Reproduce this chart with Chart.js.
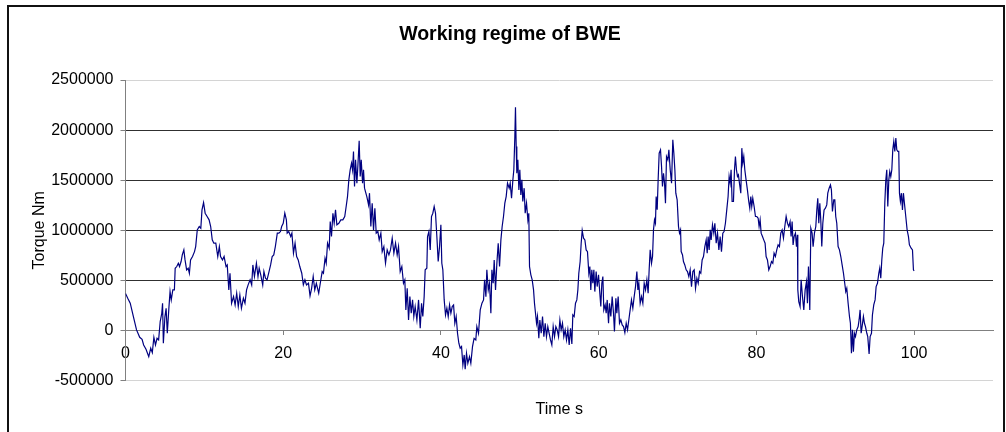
<!DOCTYPE html>
<html>
<head>
<meta charset="utf-8">
<title>Working regime of BWE</title>
<script src="https://cdn.jsdelivr.net/npm/chart.js@4/dist/chart.umd.min.js"></script>
<style>
    body { margin: 0; background: #fff; }
    #contenedor { position: relative; width: 1006px; height: 432px; overflow: hidden; }
    #marco {
        position: absolute; left: 7px; top: 5px; width: 998px; height: 440px;
        box-sizing: border-box; border: 2px solid #111; pointer-events: none;
    }
</style>
</head>
<body>
<div id="contenedor">
    <canvas id="miGrafico" width="1006" height="432"></canvas>
    <div id="marco"></div>
</div>
<script>
// Tiempo en segundos
const tiempo = [
    0, 0.3, 0.6, 1.0, 1.4, 1.8, 2.1, 2.3, 2.6, 2.95, 3.2, 3.4, 3.6, 3.8, 4.0, 4.2, 4.4, 4.6, 4.7, 4.8,
    5.0, 5.15, 5.3, 5.5, 5.65, 5.8, 6.0, 6.2, 6.3, 6.5, 6.7, 6.85, 7.05, 7.2, 7.4, 7.55, 7.75, 7.95, 8.1, 8.25,
    8.5, 8.75, 8.9, 9.1, 9.35, 9.55, 9.7, 9.9, 10.1, 10.35, 10.6, 10.8, 11.0, 11.2, 11.45, 11.7, 11.9, 12.05, 12.3, 12.5,
    12.75, 12.9, 13.1, 13.25, 13.45, 13.7, 13.9, 14.1, 14.3, 14.5, 14.7, 14.95, 15.15, 15.35, 15.55, 15.8, 16.0, 16.15, 16.35, 16.6,
    16.8, 16.95, 17.15, 17.4, 17.55, 17.75, 17.95, 18.2, 18.4, 18.6, 18.8, 19.0, 19.25, 19.45, 19.65, 19.8, 20.0, 20.2, 20.4, 20.5,
    20.7, 20.95, 21.1, 21.3, 21.5, 21.7, 21.9, 22.1, 22.35, 22.55, 22.75, 22.95, 23.2, 23.4, 23.6, 23.8, 24.0, 24.2, 24.5, 24.7,
    24.94, 25.1, 25.3, 25.45, 25.62, 25.83, 25.96, 26.12, 26.3, 26.46, 26.63, 26.8, 27.05, 27.3, 27.56, 27.8, 27.98, 28.15, 28.32, 28.49,
    28.66, 28.79, 28.91, 29.04, 29.17, 29.34, 29.46, 29.63, 29.76, 29.89, 30.06, 30.18, 30.31, 30.6, 30.82, 30.94, 31.11, 31.28, 31.45, 31.62,
    31.79, 32.0, 32.17, 32.38, 32.55, 32.76, 32.97, 33.18, 33.4, 33.6, 33.82, 34.03, 34.24, 34.45, 34.62, 34.83, 35.04, 35.25, 35.42, 35.55,
    35.72, 35.89, 36.06, 36.23, 36.4, 36.56, 36.73, 36.95, 37.16, 37.37, 37.54, 37.7, 37.87, 38.0, 38.21, 38.3, 38.47, 38.64, 38.8, 38.97,
    39.14, 39.31, 39.48, 39.65, 39.82, 39.99, 40.11, 40.24, 40.41, 40.58, 40.75, 40.92, 41.09, 41.26, 41.43, 41.6, 41.76, 41.93, 42.1, 42.27,
    42.44, 42.61, 42.78, 42.95, 43.07, 43.24, 43.41, 43.62, 43.79, 44.0, 44.2, 44.42, 44.55, 44.76, 44.98, 45.2, 45.4, 45.53, 45.7, 45.82,
    46.0, 46.16, 46.33, 46.46, 46.62, 46.75, 46.92, 47.09, 47.26, 47.43, 47.6, 47.76, 47.93, 48.1, 48.27, 48.44, 48.65, 48.78, 48.95, 49.12,
    49.24, 49.37, 49.45, 49.54, 49.62, 49.75, 49.88, 50.0, 50.13, 50.26, 50.38, 50.55, 50.68, 50.85, 51.02, 51.14, 51.23, 51.4, 51.57, 51.74,
    51.86, 51.99, 52.12, 52.24, 52.41, 52.54, 52.71, 52.88, 53.05, 53.22, 53.38, 53.55, 53.72, 53.89, 54.06, 54.23, 54.4, 54.57, 54.74, 54.91,
    55.08, 55.24, 55.41, 55.58, 55.75, 55.92, 56.09, 56.26, 56.43, 56.6, 56.72, 56.89, 57.06, 57.23, 57.36, 57.48, 57.65, 57.78, 57.91, 58.08,
    58.25, 58.41, 58.58, 58.75, 58.88, 59.0, 59.13, 59.26, 59.39, 59.51, 59.68, 59.81, 59.98, 60.1, 60.27, 60.4, 60.53, 60.65, 60.82, 60.95,
    61.08, 61.25, 61.37, 61.54, 61.71, 61.88, 62.0, 62.18, 62.3, 62.47, 62.64, 62.81, 62.98, 63.15, 63.32, 63.49, 63.66, 63.82, 63.99, 64.16,
    64.33, 64.5, 64.67, 64.84, 64.97, 65.09, 65.26, 65.43, 65.6, 65.77, 65.94, 66.11, 66.27, 66.4, 66.53, 66.7, 66.83, 66.95, 67.08, 67.2,
    67.29, 67.42, 67.54, 67.67, 67.84, 67.97, 68.09, 68.22, 68.35, 68.47, 68.6, 68.77, 68.9, 69.07, 69.24, 69.4, 69.53, 69.66, 69.78, 69.95,
    70.12, 70.25, 70.38, 70.46, 70.63, 70.75, 70.92, 71.09, 71.26, 71.43, 71.6, 71.77, 71.94, 72.11, 72.28, 72.45, 72.62, 72.79, 72.95, 73.12,
    73.29, 73.46, 73.63, 73.76, 73.88, 74.01, 74.14, 74.26, 74.43, 74.6, 74.73, 74.9, 75.07, 75.24, 75.4, 75.57, 75.74, 75.9, 76.07, 76.24,
    76.41, 76.54, 76.67, 76.79, 76.92, 77.09, 77.22, 77.34, 77.47, 77.6, 77.72, 77.85, 78.02, 78.15, 78.27, 78.4, 78.53, 78.69, 78.86, 79.03,
    79.16, 79.29, 79.41, 79.54, 79.71, 79.88, 80.05, 80.22, 80.34, 80.47, 80.6, 80.77, 80.93, 81.1, 81.23, 81.4, 81.57, 81.74, 81.91, 82.08,
    82.24, 82.41, 82.58, 82.75, 82.92, 83.09, 83.26, 83.43, 83.6, 83.77, 83.94, 84.1, 84.27, 84.4, 84.53, 84.65, 84.78, 84.95, 85.08, 85.2,
    85.25, 85.37, 85.54, 85.67, 85.84, 86.01, 86.18, 86.35, 86.47, 86.6, 86.77, 86.9, 87.06, 87.19, 87.36, 87.53, 87.66, 87.78, 87.91, 88.04,
    88.16, 88.29, 88.42, 88.58, 88.75, 88.92, 89.05, 89.22, 89.39, 89.51, 89.64, 89.81, 89.94, 90.06, 90.19, 90.36, 90.53, 90.7, 90.87, 91.04,
    91.2, 91.33, 91.46, 91.63, 91.8, 91.92, 92.05, 92.18, 92.3, 92.43, 92.56, 92.73, 92.9, 93.02, 93.15, 93.28, 93.4, 93.57, 93.7, 93.83,
    94.0, 94.12, 94.29, 94.42, 94.59, 94.71, 94.88, 95.05, 95.18, 95.35, 95.52, 95.64, 95.77, 95.9, 96.02, 96.15, 96.28, 96.41, 96.53, 96.66,
    96.79, 96.91, 97.04, 97.17, 97.29, 97.42, 97.55, 97.68, 97.8, 97.93, 98.05, 98.14, 98.26, 98.39, 98.52, 98.64, 98.77, 98.94, 99.11, 99.28,
    99.4, 99.62, 99.79, 99.91, 100.0
];

// Par en miles de Nm (kNm), mismo orden que tiempo
const parKNm = [
    370, 320, 273, 140, 7, -67, -87, -143, -186, -260, -176, -220, -67, -143, -77, -93, 90, 173, 273, -126,
    140, 223, -27, 223, 390, 306, 406, 406, 622, 639, 672, 639, 689, 755, 805, 705, 605, 622, 572, 705,
    739, 788, 838, 1005, 1038, 1021, 1204, 1277, 1171, 1138, 1105, 1038, 905, 872, 872, 739, 838, 739, 705, 739,
    639, 655, 406, 572, 273, 339, 256, 373, 240, 356, 223, 323, 273, 406, 456, 506, 456, 655, 539, 672,
    539, 622, 556, 456, 589, 522, 506, 589, 655, 739, 755, 838, 972, 972, 988, 1038, 1071, 1171, 1105, 972,
    988, 938, 972, 772, 872, 739, 705, 639, 572, 456, 506, 456, 472, 346, 422, 539, 406, 472, 373, 472,
    589, 572, 722, 672, 872, 822, 1088, 938, 1171, 1071, 1204, 1055, 1071, 1105, 1105, 1138, 1238, 1337, 1504, 1604,
    1670, 1604, 1787, 1437, 1703, 1471, 1637, 1893, 1537, 1703, 1471, 1604, 1421, 1337, 1254, 1371, 1038, 1271, 1005, 1221,
    972, 988, 905, 972, 788, 838, 672, 805, 755, 805, 922, 772, 872, 755, 838, 589, 639, 472, 506, 206,
    422, 106, 339, 173, 306, 140, 240, 106, 306, 23, 273, 140, 339, 606, 622, 938, 988, 805, 1138, 1171,
    1238, 1171, 938, 689, 838, 1055, 672, 606, 306, 156, 223, 140, 256, 173, 240, 256, 73, 140, -27, -126,
    -176, -160, -343, -243, -386, -226, -326, -260, -326, -160, -77, -93, 40, -27, 206, 273, 306, 506, 339, 606,
    406, 472, 173, 606, 472, 705, 406, 672, 872, 639, 905, 1038, 1138, 1271, 1337, 1471, 1421, 1471, 1321, 1504,
    1604, 1936, 2229, 1837, 1570, 1703, 1404, 1604, 1354, 1504, 1288, 1421, 1171, 1271, 1105, 1171, 639, 556, 506, 406,
    273, 173, 73, 140, -77, 106, -27, 140, -60, 73, -60, 40, -27, -93, -143, 40, -60, 40, 7, -60,
    106, 7, 73, -60, 7, -93, 7, -143, 23, -133, 156, 140, 273, 306, 406, 572, 689, 872, 998, 922,
    905, 805, 788, 572, 639, 406, 606, 472, 606, 389, 589, 439, 556, 422, 240, 472, 539, 206, 256, 173,
    306, 73, 273, 140, 339, 173, -10, 323, 173, 339, 73, 106, 57, 40, -20, 73, 7, 106, 206, 306,
    223, 339, 439, 589, 406, 472, 273, 339, 273, 472, 406, 506, 373, 606, 805, 672, 739, 1005, 1105, 1071,
    1337, 1205, 1504, 1770, 1803, 1637, 1437, 1570, 1471, 1271, 1737, 1703, 1803, 1604, 1471, 1903, 1770, 1604, 1371, 1304,
    1038, 972, 1005, 788, 755, 689, 655, 606, 589, 539, 606, 439, 589, 606, 422, 522, 472, 589, 572, 705,
    739, 838, 905, 772, 938, 805, 1005, 905, 1055, 972, 1071, 872, 972, 805, 938, 788, 972, 988, 1071, 1204,
    1337, 1537, 1471, 1604, 1288, 1288, 1604, 1737, 1604, 1537, 1554, 1471, 1371, 1820, 1670, 1737, 1604, 1504, 1404, 1288,
    1221, 1337, 1238, 1321, 1238, 1138, 1138, 1121, 1038, 1105, 972, 938, 905, 872, 739, 705, 606, 639, 689, 672,
    772, 739, 805, 855, 838, 972, 1005, 922, 1038, 1138, 1071, 1038, 1088, 938, 1088, 855, 938, 972, 838, 955,
    406, 289, 240, 506, 339, 206, 406, 489, 273, 639, 206, 1021, 972, 838, 972, 1038, 1204, 1321, 1071, 1271,
    1105, 838, 1071, 1204, 1221, 1254, 1371, 1421, 1454, 1404, 1188, 1304, 1304, 1138, 1071, 838, 805, 739, 655, 572,
    472, 389, 422, 273, 140, 73, -226, 7, -210, -27, -60, 7, 40, 106, 206, -27, 40, 140, 73, 40,
    -27, -60, -233, -60, -27, 156, 256, 306, 439, 472, 572, 622, 522, 705, 822, 872, 1271, 1504, 1604, 1238,
    1504, 1587, 1537, 1604, 1803, 1886, 1787, 1920, 1803, 1787, 1787, 1371, 1288, 1371, 1204, 1371, 1271, 1138, 1005, 938,
    855, 822, 805, 606, 596
];

// Rango de los ejes
const ejeX = { min: 0, max: 110, paso: 20 };
const ejeY = { min: -500000, max: 2500000, paso: 500000 };

const puntos = tiempo.map(function (t, i) {
    return { x: t, y: parKNm[i] * 1000 };
});

const fuente = "'Liberation Sans', Arial, sans-serif";

const ctx = document.getElementById('miGrafico').getContext('2d');
new Chart(ctx, {
    type: 'line',
    data: {
        datasets: [{
            label: 'Torque',
            data: puntos,
            borderColor: '#000080',
            borderWidth: 1.2,
            pointRadius: 0,
            tension: 0,
            fill: false
        }]
    },
    options: {
        responsive: false,
        animation: false,
        devicePixelRatio: 1,
        events: [],
        layout: {
            padding: { left: 14, right: 0, top: 0, bottom: 51.3 }
        },
        plugins: {
            legend: { display: false },
            tooltip: { enabled: false },
            title: {
                display: true,
                text: 'Working regime of BWE',
                color: '#000',
                font: { family: fuente, size: 19.5, weight: 'bold' },
                padding: { top: 23.3, bottom: 33.3 }
            }
        },
        scales: {
            x: {
                type: 'linear',
                position: { y: 0 },
                min: ejeX.min,
                max: ejeX.max,
                afterFit: function (escala) {
                    escala.height = 89;
                },
                ticks: {
                    stepSize: ejeX.paso,
                    includeBounds: false,
                    padding: 9,
                    color: '#000',
                    font: { family: fuente, size: 16 },
                    maxRotation: 0,
                    callback: function (v) { return String(v); }
                },
                grid: {
                    drawOnChartArea: false,
                    drawTicks: true,
                    tickLength: 4,
                    tickColor: '#808080'
                },
                border: { color: '#808080', width: 1 },
                title: {
                    display: true,
                    text: 'Time s',
                    color: '#000',
                    font: { family: fuente, size: 16 },
                    padding: 0
                }
            },
            y: {
                type: 'linear',
                min: ejeY.min,
                max: ejeY.max,
                afterFit: function (escala) {
                    escala.width = 111.5;
                },
                ticks: {
                    stepSize: ejeY.paso,
                    padding: 7,
                    color: '#000',
                    font: { family: fuente, size: 16 },
                    callback: function (v) { return String(v); }
                },
                grid: {
                    color: function (c) {
                        const v = c.tick ? c.tick.value : null;
                        if (v === ejeY.max || v === ejeY.min) return '#d4d4d4';
                        if (v === 0) return 'rgba(0,0,0,0)';
                        return '#303030';
                    },
                    lineWidth: 1,
                    tickLength: 5,
                    tickColor: '#808080'
                },
                border: { color: '#808080', width: 1 },
                title: {
                    display: true,
                    text: 'Torque Nm',
                    color: '#000',
                    font: { family: fuente, size: 16 },
                    padding: { top: 16.4, bottom: 0 }
                }
            },
            // eje vacio a la derecha, solo para dejar el margen del area de trazado
            margen: {
                type: 'linear',
                axis: 'y',
                position: 'right',
                min: ejeY.min,
                max: ejeY.max,
                afterFit: function (escala) {
                    escala.width = 13;
                },
                ticks: { display: false },
                grid: { display: false },
                border: { display: false }
            }
        }
    }
});
</script>
</body>
</html>
